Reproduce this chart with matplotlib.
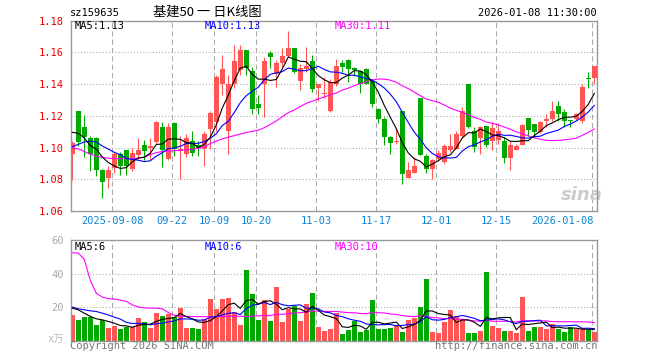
import numpy as np
import pandas as pd
import matplotlib
matplotlib.use('Agg')
from matplotlib import pyplot as plt

plt.rcParams['font.family'] = ['DejaVu Sans Mono', 'Noto Sans CJK SC']

# daily K data, 2025-08-28 .. 2026-01-08 (88 trading days)
opens = [1.0961, 1.1228, 1.1128, 1.1061, 1.1061, 1.0861, 1.0809, 1.0871, 1.0959, 1.0982,
         1.0867, 1.0950, 1.1015, 1.1000, 1.1034, 1.1128, 1.0930, 1.1157, 1.0978, 1.0957,
         1.1044, 1.1019, 1.0992, 1.1117, 1.1159, 1.1398, 1.1107, 1.1398, 1.1488, 1.1613,
         1.1480, 1.1277, 1.1398, 1.1598, 1.1465, 1.1532, 1.1578, 1.1628, 1.1419, 1.1492,
         1.1548, 1.1378, 1.1336, 1.1232, 1.1398, 1.1530, 1.1552, 1.1500, 1.1482, 1.1496,
         1.1419, 1.1246, 1.1178, 1.1065, 1.1034, 1.1228, 1.0809, 1.0842, 1.1315, 1.0944,
         1.0867, 1.0930, 1.0909, 1.0982, 1.0992, 1.1075, 1.1402, 1.1107, 1.1061, 1.1134,
         1.1040, 1.1048, 1.1044, 1.0936, 1.0986, 1.1013, 1.1184, 1.1148, 1.1096, 1.1165,
         1.1180, 1.1263, 1.1221, 1.1175, 1.1180, 1.1165, 1.1436, 1.1440]
highs = [1.1044, 1.1228, 1.1207, 1.1070, 1.1065, 1.0865, 1.0882, 1.0973, 1.0973, 1.0986,
         1.0998, 1.1061, 1.1048, 1.1061, 1.1170, 1.1159, 1.1152, 1.1160, 1.1075, 1.1086,
         1.1107, 1.1044, 1.1107, 1.1232, 1.1460, 1.1582, 1.1460, 1.1648, 1.1648, 1.1615,
         1.1507, 1.1332, 1.1570, 1.1607, 1.1553, 1.1628, 1.1736, 1.1630, 1.1528, 1.1636,
         1.1586, 1.1402, 1.1444, 1.1430, 1.1555, 1.1551, 1.1555, 1.1505, 1.1490, 1.1500,
         1.1430, 1.1250, 1.1190, 1.1070, 1.1117, 1.1230, 1.0909, 1.0940, 1.1315, 1.0961,
         1.0930, 1.0982, 1.1023, 1.1086, 1.1107, 1.1257, 1.1402, 1.1132, 1.1138, 1.1134,
         1.1159, 1.1153, 1.1065, 1.1044, 1.1023, 1.1148, 1.1184, 1.1150, 1.1165, 1.1211,
         1.1294, 1.1294, 1.1242, 1.1175, 1.1215, 1.1398, 1.1478, 1.1517]
lows = [1.0798, 1.1010, 1.0940, 1.0853, 1.0823, 1.0680, 1.0742, 1.0840, 1.0825, 1.0825,
        1.0853, 1.0930, 1.0923, 1.0919, 1.1020, 1.0878, 1.0923, 1.0944, 1.0800, 1.0940,
        1.0944, 1.0944, 1.0882, 1.0992, 1.1107, 1.1332, 1.0957, 1.1378, 1.1460, 1.1460,
        1.1210, 1.1210, 1.1194, 1.1502, 1.1382, 1.1507, 1.1570, 1.1471, 1.1361, 1.1478,
        1.1352, 1.1294, 1.1315, 1.1221, 1.1388, 1.1478, 1.1415, 1.1450, 1.1346, 1.1400,
        1.1257, 1.1152, 1.1013, 1.0957, 1.1023, 1.0773, 1.0805, 1.0840, 1.0950, 1.0840,
        1.0800, 1.0915, 1.0898, 1.0971, 1.0990, 1.1061, 1.1123, 1.0971, 1.0957, 1.1002,
        1.0982, 1.1023, 1.0905, 1.0861, 1.0982, 1.1013, 1.1075, 1.1065, 1.1090, 1.1128,
        1.1169, 1.1169, 1.1128, 1.1128, 1.1173, 1.1152, 1.1378, 1.1402]
closes = [1.1027, 1.1034, 1.1065, 1.0961, 1.0861, 1.0780, 1.0861, 1.0957, 1.0882, 1.0886,
          1.0965, 1.0982, 1.0978, 1.1011, 1.1159, 1.0982, 1.1132, 1.0992, 1.0992, 1.1059,
          1.0965, 1.0998, 1.1086, 1.1217, 1.1446, 1.1498, 1.1402, 1.1544, 1.1613, 1.1502,
          1.1246, 1.1248, 1.1548, 1.1570, 1.1532, 1.1578, 1.1628, 1.1478, 1.1503, 1.1517,
          1.1367, 1.1402, 1.1346, 1.1415, 1.1515, 1.1510, 1.1496, 1.1490, 1.1398, 1.1402,
          1.1277, 1.1180, 1.1069, 1.1027, 1.1044, 1.0832, 1.0857, 1.0884, 1.0950, 1.0867,
          1.0919, 1.0965, 1.1009, 1.1009, 1.1086, 1.1232, 1.1132, 1.1002, 1.1128, 1.1013,
          1.1123, 1.1107, 1.0936, 1.1017, 1.1009, 1.1144, 1.1111, 1.1096, 1.1159, 1.1180,
          1.1232, 1.1211, 1.1169, 1.1165, 1.1211, 1.1384, 1.1430, 1.1517]
volumes = [15.4, 12.4, 14, 14, 9.4, 12.4, 7.6, 8.8, 7, 8.4,
           8.4, 13.6, 11.2, 7.6, 16.6, 14.8, 16, 14, 19.6, 7.6,
           7.6, 7, 12.8, 25, 19, 25, 25.6, 17.2, 9.4, 42.4,
           28, 12.4, 24.4, 11.8, 32.2, 11.2, 19, 20.4, 11.8, 22,
           28.6, 8.2, 5.8, 7, 16.4, 4, 6.4, 12, 5.2, 6.4,
           24.4, 7, 7, 7.6, 9.4, 5.2, 12.4, 13.8, 20.2, 37,
           5.2, 4.6, 11.2, 18.4, 14.8, 12.8, 4.6, 4.6, 5.8, 41.2,
           8.8, 7.6, 5.8, 5.8, 4.6, 26.2, 5.8, 8.2, 8.2, 7,
           10, 7, 5.2, 8.2, 7, 7, 6.6, 5.2]

# moving-average values at the left edge (window reaches before the first day)
ma5_head = [1.1096, 1.1090, 1.1060, 1.1013]
ma10_head = [1.1005, 1.1020, 1.1035, 1.1040, 1.1035, 1.1010, 1.0990, 1.0970, 1.0955]
ma30_head = [1.0996, 1.0992, 1.0975, 1.0958, 1.0945, 1.0938, 1.0933, 1.0930, 1.0930, 1.0930,
             1.0930, 1.0933, 1.0940, 1.0955, 1.0968, 1.0975, 1.0978, 1.0980, 1.0982, 1.0985,
             1.0990, 1.0995, 1.1005, 1.1025, 1.1040, 1.1055, 1.1065, 1.1075, 1.1085]
vma5_head = [19.4, 18.4, 16.4, 14.5]
vma10_head = [20.0, 19.0, 18.4, 17.8, 17.4, 16.4, 15.4, 14.0, 12.9]
vma30_head = [52.4, 52.2, 48.5, 36.0, 28.3, 26.0, 25.1, 24.8, 24.2, 23.4,
              21.4, 20.0, 19.6, 19.4, 19.4, 19.0, 16.8, 15.2, 14.6, 14.4,
              14.4, 14.3, 14.3, 14.3, 14.3, 14.4, 14.5, 14.6, 14.6]

tick_idx = [7, 17, 24, 31, 41, 51, 61, 71, 87]
tick_lab = ['2025-09-08', '09-22', '10-09', '10-20', '11-03', '11-17', '12-01', '12-15', '2026-01-08']
price_ticks = [1.06, 1.08, 1.10, 1.12, 1.14, 1.16, 1.18]
vol_ticks = [20, 40, 60]

RED = '#ff5555'
GREEN = '#00a800'
GRID = '#aaaaaa'


def moving(vals, n, head):
    s = pd.Series(vals).rolling(n, min_periods=1).mean().to_numpy()
    s[:len(head)] = head
    return s


o = np.array(opens); h = np.array(highs); l = np.array(lows); c = np.array(closes)
v = np.array(volumes)
x = np.arange(len(c))
cols = np.where(c >= o, RED, GREEN)

W, H = 660, 360
L, R = 70.6, 597.3
fig = plt.figure(figsize=(W / 100, H / 100), dpi=100)
ax = fig.add_axes([L / W, 1 - 211 / H, (R - L) / W, (211 - 20.6) / H])
axv = fig.add_axes([L / W, 1 - 340.7 / H, (R - L) / W, (340.7 - 240) / H])

for a in (ax, axv):
    a.set_xlim(-0.28, 87.5)
    a.set_xticks([])
    for sp in a.spines.values():
        sp.set_color('#999999')
        sp.set_linewidth(1.0)
    for t in tick_idx:
        a.axvline(t - 0.3, color=GRID, lw=0.75, dashes=(5, 3), zorder=0)

# price panel
ax.set_ylim(1.06, 1.18)
for p in price_ticks[1:-1]:
    ax.axhline(p, color=GRID, lw=0.75, dashes=(1, 2), zorder=0)
ax.set_yticks(price_ticks)
ax.set_yticklabels(['%.2f' % p for p in price_ticks])
ax.tick_params(axis='y', length=0, pad=5, labelcolor='#ee0000', labelsize=7.5)

ax.vlines(x, l, h, colors=cols, lw=0.8, zorder=2)
body = np.maximum(np.abs(c - o), 0.0006)
ax.bar(x, body, bottom=np.minimum(o, c), width=0.82, color=cols, lw=0, zorder=3)

ax.plot(x, moving(c, 30, ma30_head), color='#ff00ff', lw=0.8, zorder=4)
ax.plot(x, moving(c, 10, ma10_head), color='#0000ff', lw=0.8, zorder=4)
ax.plot(x, moving(c, 5, ma5_head), color='black', lw=0.8, zorder=4)

for t, lab in zip(tick_idx, tick_lab):
    ha = 'right' if lab == tick_lab[-1] else 'center'
    xx = t - 0.3 + (0.2 if ha == 'right' else 0)
    ax.text(xx, -0.05, lab, transform=ax.get_xaxis_transform(), ha=ha, va='center',
            color='#0a84d6', fontsize=7.5, clip_on=False)

ax.text(0.97, 0.085, 'sina', transform=ax.transAxes, ha='center', va='center',
        color='#cccccc', fontsize=13, fontweight='bold', fontstyle='italic',
        family='DejaVu Sans', zorder=1)

# volume panel
axv.set_ylim(0, 60)
for vv in vol_ticks[:-1]:
    axv.axhline(vv, color=GRID, lw=0.75, dashes=(1, 2), zorder=0)
axv.set_yticks(vol_ticks)
axv.set_yticklabels([str(t) for t in vol_ticks])
axv.tick_params(axis='y', length=0, pad=5, labelcolor='#aaaaaa', labelsize=7.5)
axv.bar(x, v, width=0.82, color=cols, lw=0, zorder=2)
axv.plot(x, moving(v, 30, vma30_head), color='#ff00ff', lw=0.8, zorder=4)
axv.plot(x, moving(v, 10, vma10_head), color='#0000ff', lw=0.8, zorder=4)
axv.plot(x, moving(v, 5, vma5_head), color='black', lw=0.8, zorder=4)


def ftext(px, py, s, **kw):
    fig.text(px / W, 1 - py / H, s, va='center', **kw)


ftext(70, 13, 'sz159635', fontsize=7.5, color='black')
ftext(207, 12.5, '基建50 一 日K线图', fontsize=9.5, ha='center', color='black',
      family=['Noto Sans CJK SC', 'DejaVu Sans'])
ftext(597, 13, '2026-01-08 11:30:00', fontsize=7.5, ha='right', color='black')

ftext(75, 26, 'MA5:1.13', fontsize=7.5, color='black')
ftext(205, 26, 'MA10:1.13', fontsize=7.5, color='#0000ff')
ftext(335, 26, 'MA30:1.11', fontsize=7.5, color='#ff00ff')

ftext(75, 246.5, 'MA5:6', fontsize=7.5, color='black')
ftext(205, 246.5, 'MA10:6', fontsize=7.5, color='#0000ff')
ftext(335, 246.5, 'MA30:10', fontsize=7.5, color='#ff00ff')

ftext(64, 340, 'x万', fontsize=7.5, ha='right', color='#bbbbbb')
ftext(70, 346, 'Copyright 2026 SINA.COM', fontsize=7.5, color='#777777')
ftext(597, 346, 'http://finance.sina.com.cn', fontsize=7.5, ha='right', color='#777777')

fig.savefig('out.png', dpi=100)
